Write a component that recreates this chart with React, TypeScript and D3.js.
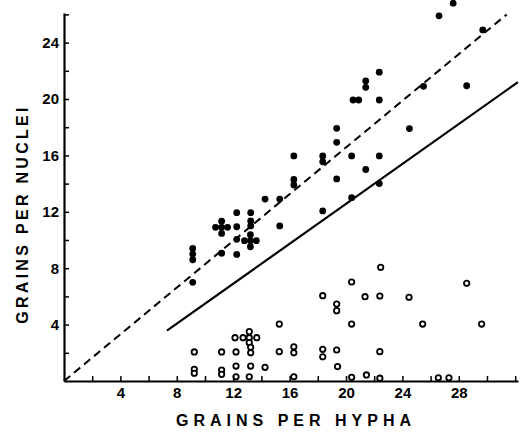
import React, { useRef, useEffect } from 'react';
import * as d3 from 'd3';

// filled dots (upper group)
const filledX = [9.13, 9.13, 9.13, 9.13, 10.75, 11.6, 11.18, 11.18, 11.18, 11.18, 12.25, 12.25, 12.25, 12.25, 13.24, 13.24, 13.24, 12.8, 13.64, 13.22, 13.22, 13.22, 14.26, 15.3, 15.3, 16.3, 16.3, 16.3, 18.35, 18.35, 18.35, 19.34, 19.34, 19.34, 20.4, 20.4, 20.5, 20.9, 21.4, 21.4, 21.4, 22.36, 22.36, 22.36, 22.36, 24.5, 25.5, 26.6, 27.6, 28.56, 29.7];
const filledY = [9.4, 9.0, 8.6, 7.0, 10.9, 10.9, 11.33, 10.47, 10.9, 9.06, 11.94, 10.94, 10.05, 8.98, 11.94, 11.35, 11.0, 9.95, 9.95, 10.38, 9.52, 9.95, 12.9, 12.9, 11.0, 14.3, 13.9, 15.96, 15.96, 15.55, 12.06, 17.92, 16.93, 14.33, 15.96, 13.0, 19.93, 19.93, 21.28, 20.83, 15.0, 21.9, 19.93, 15.96, 14.0, 17.9, 20.9, 25.9, 26.8, 20.94, 24.9];

// open circles (lower group)
const openX = [9.24, 9.24, 9.24, 11.18, 11.18, 11.18, 12.2, 12.2, 12.2, 12.13, 12.7, 13.14, 13.14, 13.67, 13.14, 13.24, 13.24, 13.24, 13.14, 14.26, 15.27, 15.27, 16.3, 16.3, 16.3, 18.35, 18.35, 18.35, 19.34, 19.34, 19.34, 19.4, 20.4, 20.4, 20.4, 21.35, 21.45, 22.46, 22.4, 22.4, 22.4, 24.47, 25.44, 26.55, 27.3, 28.56, 29.62];
const openY = [2.06, 0.83, 0.55, 2.06, 0.78, 0.47, 2.06, 1.06, 0.3, 3.07, 3.07, 3.5, 3.07, 3.07, 2.72, 2.39, 2.0, 1.06, 0.3, 0.97, 4.04, 2.08, 2.43, 2.0, 0.3, 2.25, 1.72, 6.05, 5.46, 4.99, 2.2, 1.02, 7.02, 4.04, 0.26, 5.98, 0.43, 8.06, 6.03, 2.08, 0.2, 5.94, 4.04, 0.23, 0.23, 6.93, 4.04];

// fitted lines
const dashX = [0, 31.4];
const dashY = [0, 26.0];
const solidX = [7.3, 32.2];
const solidY = [3.57, 21.2];

const xTicks = d3.range(2, 33, 2);
const yTicks = d3.range(2, 27, 2);

const FONT = '"Liberation Sans", Arial, sans-serif';

const App = () => {
  const ref = useRef<SVGSVGElement>(null);

  useEffect(() => {
    const width = 520;
    const height = 432;
    const svg = d3.select(ref.current);
    svg.selectAll('*').remove();

    const x = d3.scaleLinear().domain([0, 32.2]).range([64, 518]);
    const y = d3.scaleLinear().domain([0, 26.1]).range([381, 13]);

    svg.append('rect').attr('width', width).attr('height', height).attr('fill', '#fff');

    svg.append('clipPath').attr('id', 'plotclip')
      .append('rect').attr('x', 64).attr('y', 0).attr('width', 460).attr('height', 381);

    const line = d3.line<number>().x(d => x(d[0])).y(d => y(d[1]));

    svg.append('path')
      .attr('d', line(dashX.map((v, i) => [v, dashY[i]]) as any))
      .attr('stroke', '#000').attr('stroke-width', 2).attr('stroke-dasharray', '8,5').attr('fill', 'none');

    svg.append('path')
      .attr('d', line(solidX.map((v, i) => [v, solidY[i]]) as any))
      .attr('stroke', '#000').attr('stroke-width', 2.2).attr('fill', 'none');

    const pts = svg.append('g').attr('clip-path', 'url(#plotclip)');

    pts.selectAll('circle.f').data(filledX).join('circle').attr('class', 'f')
      .attr('cx', d => x(d)).attr('cy', (d, i) => y(filledY[i])).attr('r', 3.4).attr('fill', '#000');

    pts.selectAll('circle.o').data(openX).join('circle').attr('class', 'o')
      .attr('cx', d => x(d)).attr('cy', (d, i) => y(openY[i])).attr('r', 2.7)
      .attr('fill', '#fff').attr('stroke', '#000').attr('stroke-width', 1.8);

    // axes
    const xAxis = svg.append('g').attr('transform', `translate(0,${y(0)})`)
      .call(d3.axisBottom(x).tickValues(xTicks).tickSize(-5).tickSizeOuter(0).tickPadding(6)
        .tickFormat(d => (+d % 4 === 0 && +d < 32 ? String(d) : '')));
    const yAxis = svg.append('g').attr('transform', `translate(${x(0)},0)`)
      .call(d3.axisLeft(y).tickValues(yTicks).tickSize(-5).tickSizeOuter(0).tickPadding(5)
        .tickFormat(d => (+d % 4 === 0 ? String(d) : '')));

    [xAxis, yAxis].forEach(g => {
      g.select('.domain').attr('stroke-width', 2.2).attr('stroke', '#000');
      g.selectAll('.tick line').attr('stroke-width', 1.5).attr('stroke', '#000');
      g.selectAll('.tick text').attr('font-family', FONT).attr('font-size', 15)
        .attr('font-weight', 'bold').attr('fill', '#000');
    });

    svg.append('text').attr('x', 296).attr('y', 426).attr('text-anchor', 'middle')
      .attr('font-family', FONT).attr('font-size', 16).attr('font-weight', 'bold')
      .attr('letter-spacing', 5).attr('fill', '#000')
      .text('GRAINS  PER  HYPHA');

    svg.append('text').attr('transform', 'translate(28,214) rotate(-90)').attr('text-anchor', 'middle')
      .attr('font-family', FONT).attr('font-size', 16).attr('font-weight', 'bold')
      .attr('letter-spacing', 3.3).attr('fill', '#000')
      .text('GRAINS  PER  NUCLEI');
  }, []);

  return (
    <svg ref={ref} width={520} height={432}
      style={{ position: 'absolute', left: 0, top: 0, display: 'block' }} />
  );
};

export default App;
